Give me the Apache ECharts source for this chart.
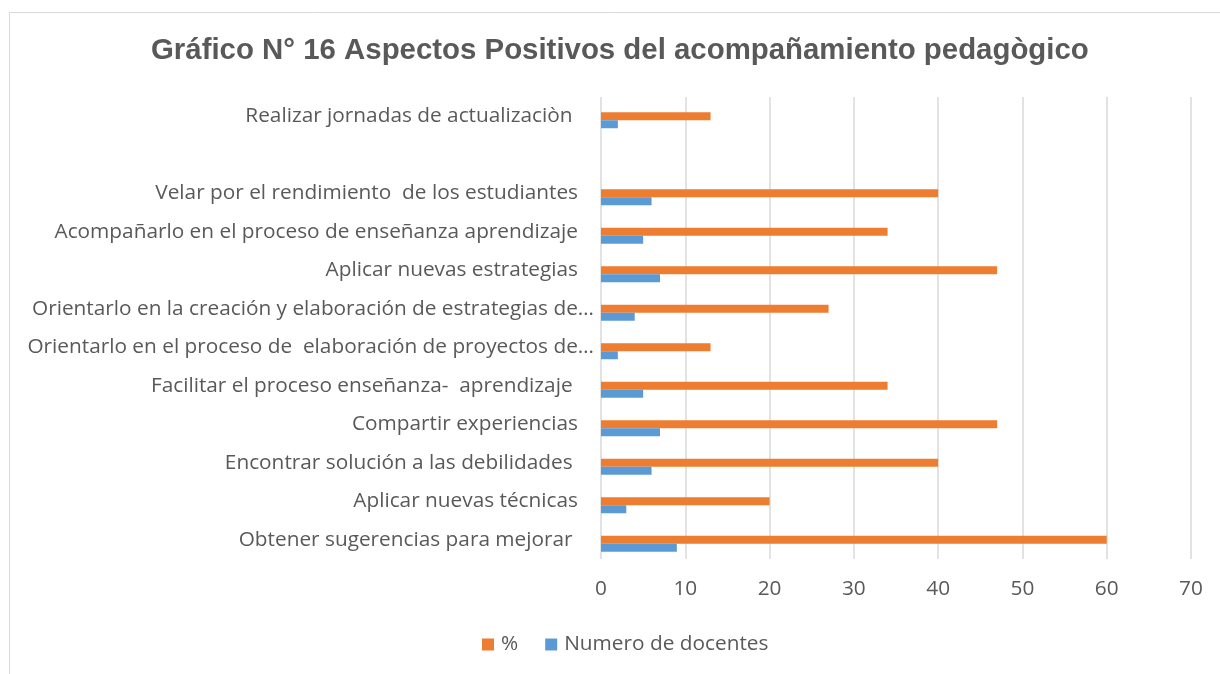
<!DOCTYPE html>
<html>
<head>
<meta charset="utf-8">
<script src="https://cdn.jsdelivr.net/npm/echarts@6/dist/echarts.min.js"></script>
<style>html,body{margin:0;padding:0;background:#fff}#c{width:1220px;height:674px}</style>
</head>
<body>
<div id="c"></div>
<script>
const categories = [
  'Obtener sugerencias para mejorar ',
  'Aplicar nuevas técnicas',
  'Encontrar solución a las debilidades ',
  'Compartir experiencias',
  'Facilitar el proceso enseñanza-  aprendizaje ',
  'Orientarlo en el proceso de  elaboración de proyectos de…',
  'Orientarlo en la creación y elaboración de estrategias de…',
  'Aplicar nuevas estrategias',
  'Acompañarlo en el proceso de enseñanza aprendizaje',
  'Velar por el rendimiento  de los estudiantes',
  '',
  'Realizar jornadas de actualizaciòn '
];
const percentValues = [60, 20, 40, 47, 34, 13, 27, 47, 34, 40, null, 13];
const docentesValues = [9, 3, 6, 7, 5, 2, 4, 7, 5, 6, null, 2];
const emptySeries = [null, null, null, null, null, null, null, null, null, null, null, null];
const xTicks = [0, 10, 20, 30, 40, 50, 60, 70];

const chart = echarts.init(document.getElementById('c'));
const txt = '#595959';
const font = 'Open Sans';
const fs = 20.8;
chart.setOption({
  animation: false,
  backgroundColor: '#fff',
  graphic: [{
    type: 'rect', left: 7, top: 10, shape: { width: 1240, height: 700 },
    style: { fill: 'none', stroke: '#d9d9d9', lineWidth: 1 }, silent: true, z: -1
  }],
  title: {
    text: 'Gráfico N° 16 Aspectos Positivos del acompañamiento pedagògico',
    left: 146, top: 31,
    textStyle: { fontFamily: 'Liberation Sans', fontWeight: 'bold', fontSize: 29.4, color: txt }
  },
  legend: {
    data: ['%', 'Numero de docentes'],
    bottom: 14, left: 477,
    itemWidth: 12, itemHeight: 12, itemGap: 27,
    textStyle: { fontFamily: font, fontSize: fs, color: txt, padding: [0, 0, 0, 2] },
    icon: 'rect'
  },
  grid: { left: 601, right: 29, top: 97, bottom: 115, containLabel: false },
  xAxis: {
    type: 'value', min: xTicks[0], max: xTicks[xTicks.length - 1], interval: 10,
    axisLine: { show: false }, axisTick: { show: false },
    splitLine: { lineStyle: { color: '#d9d9d9', width: 1.5 } },
    axisLabel: { fontFamily: font, fontSize: fs, color: txt, margin: 20 }
  },
  yAxis: {
    type: 'category', data: categories,
    axisLine: { show: false }, axisTick: { show: false },
    axisLabel: {
      margin: 7,
      formatter: function (v) { return v.endsWith('…') ? '{b|' + v + '}' : '{a|' + v + '}'; },
      rich: {
        a: { fontFamily: font, fontSize: fs, color: txt, padding: [0, 16, 0, 0] },
        b: { fontFamily: font, fontSize: fs, color: txt }
      }
    }
  },
  series: [
    { name: '', type: 'bar', data: emptySeries, barWidth: 8, barGap: '0%' },
    { name: '%', type: 'bar', data: percentValues, barWidth: 8, barGap: '0%', itemStyle: { color: '#ED7D31' } },
    { name: 'Numero de docentes', type: 'bar', data: docentesValues, barWidth: 8, barGap: '0%', itemStyle: { color: '#5B9BD5' } }
  ]
});
</script>
</body>
</html>
